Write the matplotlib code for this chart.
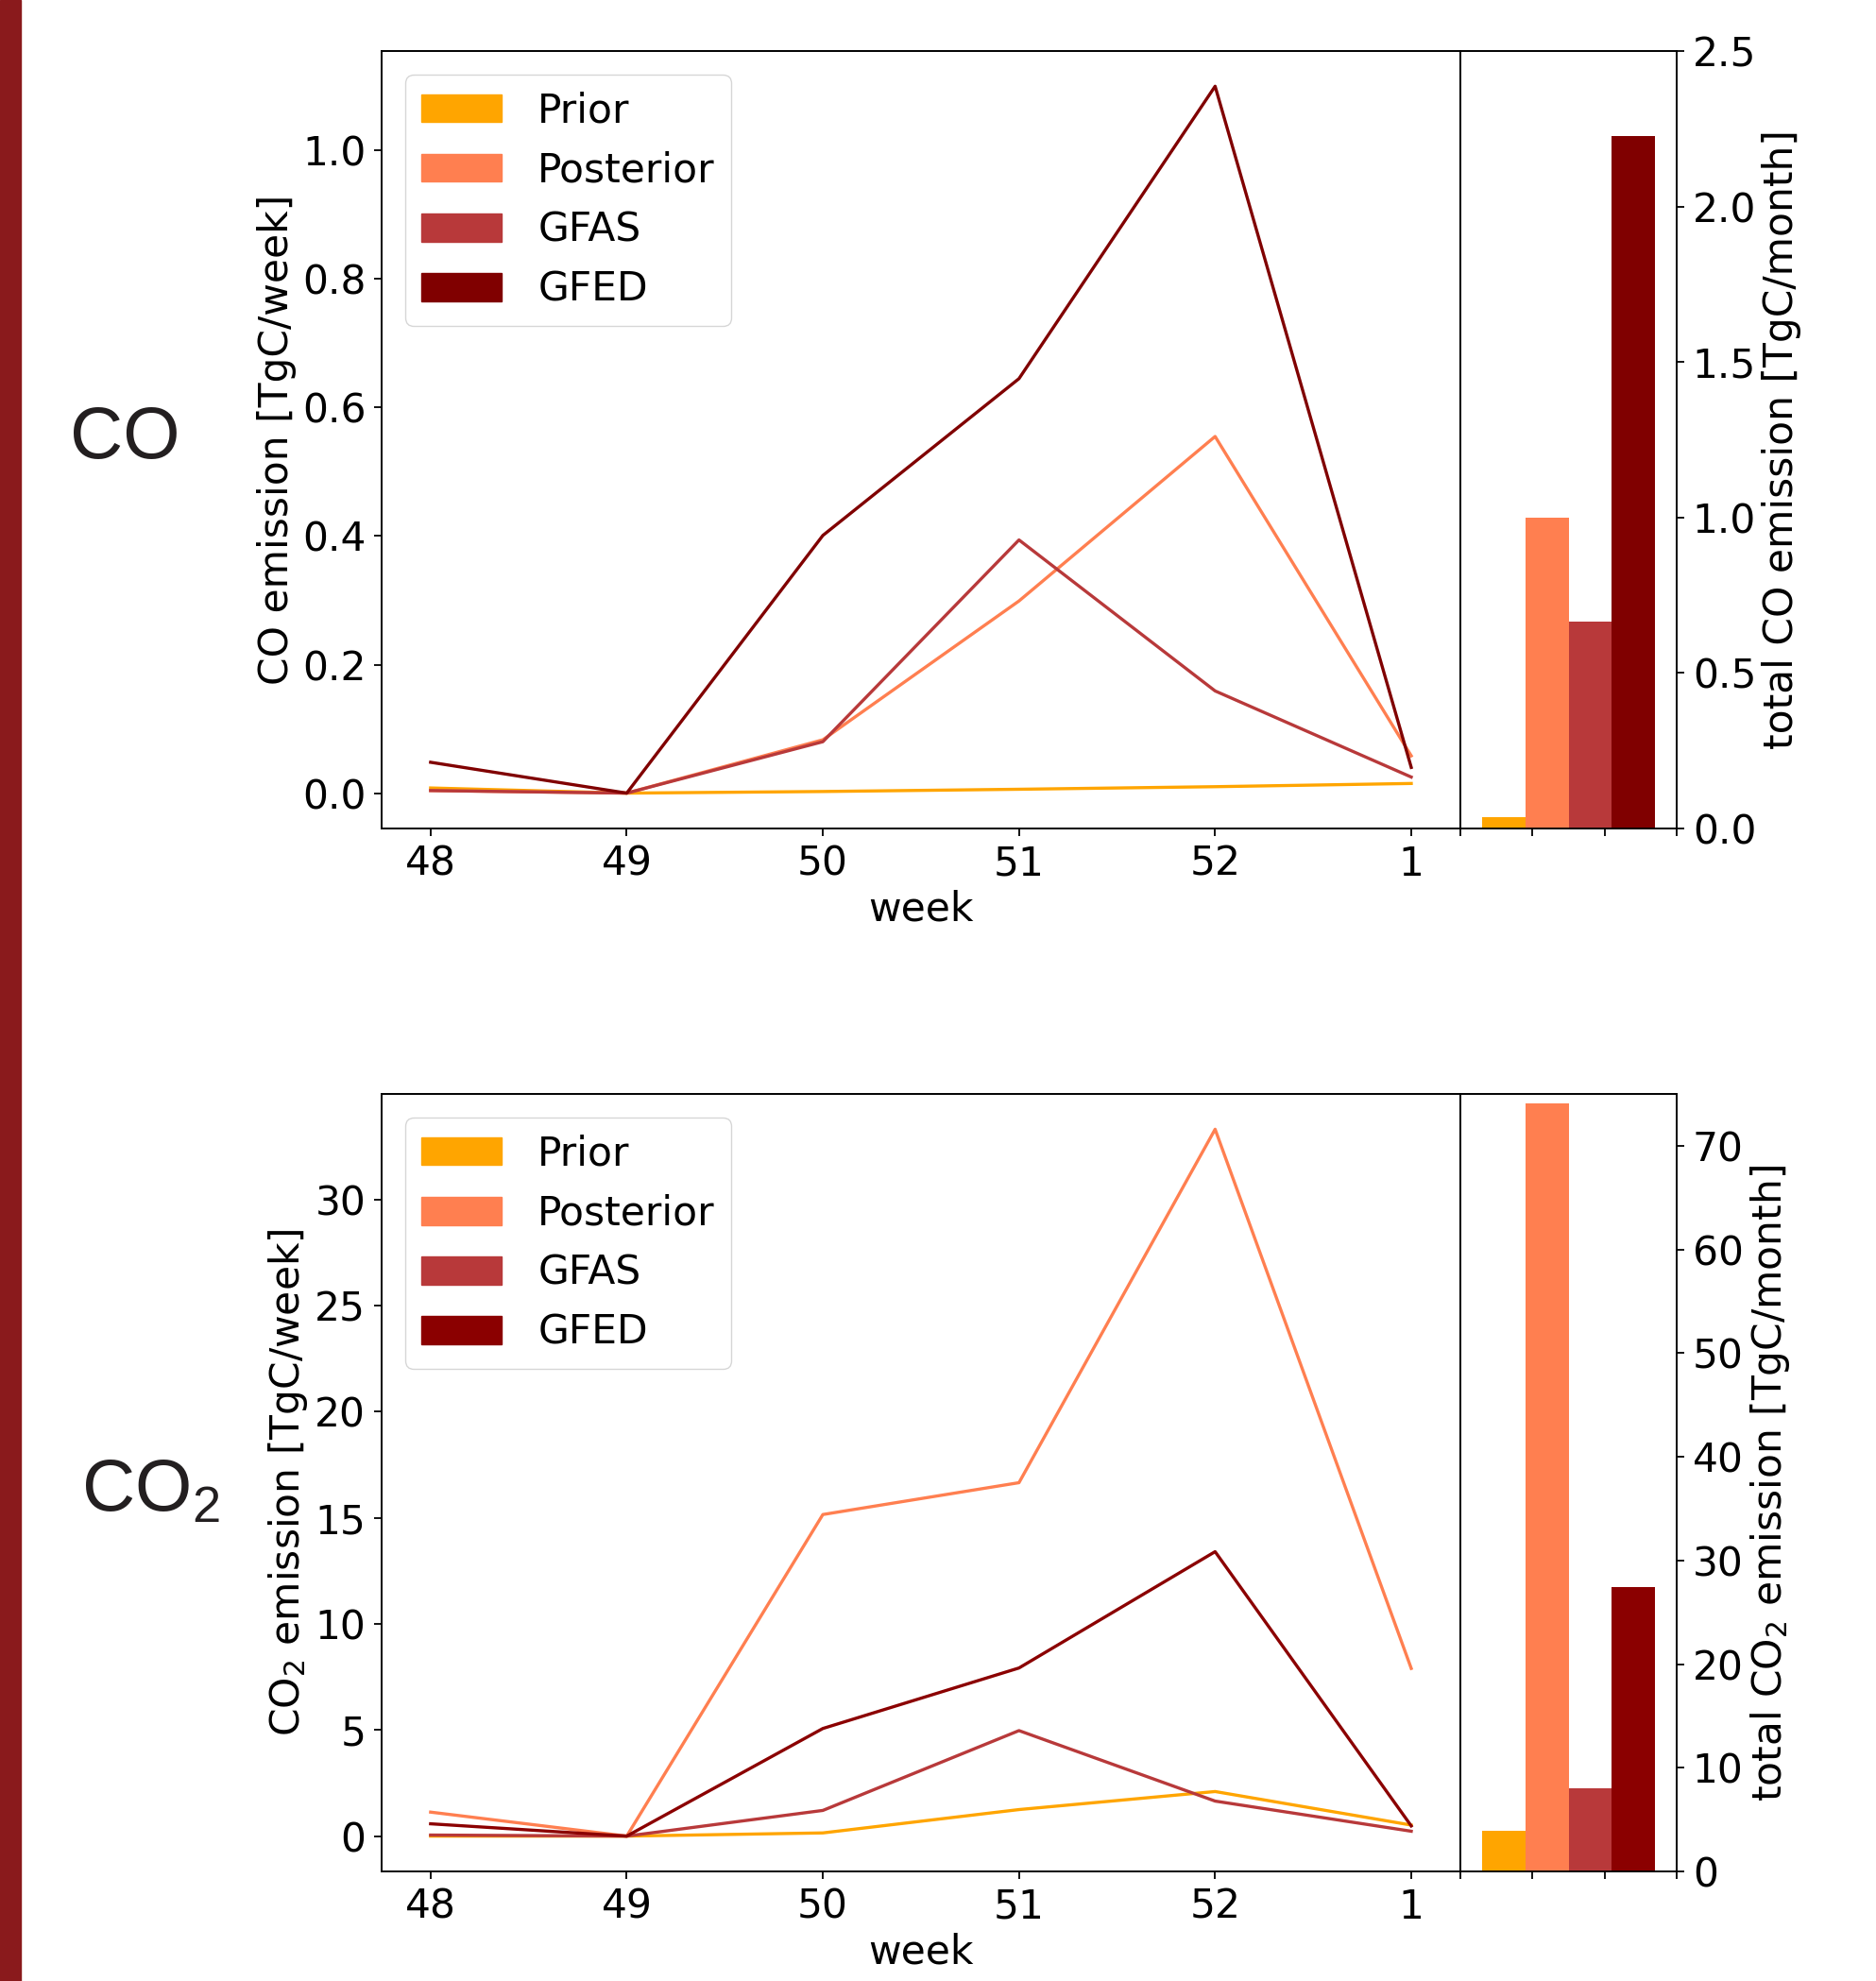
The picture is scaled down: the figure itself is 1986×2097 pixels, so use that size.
import matplotlib
matplotlib.use('Agg')
from matplotlib import pyplot as plt
from matplotlib.patches import Patch, Rectangle

weeks = ['48', '49', '50', '51', '52', '1']
names = ['Prior', 'Posterior', 'GFAS', 'GFED']

# CO weekly emission [TgC/week]
coPrior = [0.008, 0.0, 0.0025, 0.006, 0.010, 0.015]
coPosterior = [0.004, 0.0, 0.083, 0.299, 0.555, 0.058]
coGfas = [0.004, 0.0, 0.080, 0.394, 0.159, 0.025]
coGfed = [0.048, 0.0, 0.401, 0.645, 1.100, 0.040]
# CO monthly totals [TgC/month]
coTotals = [0.037, 1.00, 0.665, 2.227]

# CO2 weekly emission [TgC/week]
co2Prior = [0.0, 0.0, 0.15, 1.25, 2.10, 0.52]
co2Posterior = [1.13, 0.0, 15.15, 16.65, 33.3, 7.9]
co2Gfas = [0.05, 0.0, 1.21, 4.97, 1.65, 0.23]
co2Gfed = [0.58, 0.0, 5.07, 7.92, 13.4, 0.48]
# CO2 monthly totals [TgC/month]
co2Totals = [3.9, 74.1, 8.0, 27.4]

fs = 30.5
plt.rcParams['font.size'] = fs
plt.rcParams['axes.linewidth'] = 1.4
plt.rcParams['mathtext.rm'] = 'Liberation Sans'
for ax_ in ['xtick', 'ytick']:
    plt.rcParams[ax_ + '.major.size'] = 6
    plt.rcParams[ax_ + '.major.width'] = 1.3
    plt.rcParams[ax_ + '.major.pad'] = 6

fig = plt.figure(figsize=(19.86, 20.97), dpi=100)

# red strip on the left edge
fig.patches.append(Rectangle((0, 0), 22 / 1986, 1, transform=fig.transFigure,
                             color='#8A1A1C', zorder=0))


def panel(bottom, series, totals, colors, ylabel, ylabel2, yticks2, ylim2):
    ax = fig.add_axes([0.2034, bottom, 0.575, 0.3925])
    x = range(len(weeks))
    for vals, c in zip(series, colors):
        ax.plot(x, vals, color=c, lw=2.4)
    ax.set_xticks(list(x))
    ax.set_xticklabels(weeks)
    ax.set_xlabel('week', labelpad=4)
    ax.set_ylabel(ylabel)
    handles = [Patch(color=c, label=n) for c, n in zip(colors, names)]
    ax.legend(handles=handles, loc='upper left', fontsize=fs, handletextpad=0.9,
              borderaxespad=0.6)

    axb = fig.add_axes([0.7785, bottom, 0.1153, 0.3925])
    for i, (v, c) in enumerate(zip(totals, colors)):
        axb.bar(0.6 + 0.6 * i, v, width=0.6, color=c)
    axb.set_xlim(0, 3)
    axb.set_xticks([0, 1, 2, 3])
    axb.set_xticklabels([])
    axb.set_ylim(*ylim2)
    axb.set_yticks(yticks2)
    axb.yaxis.tick_right()
    axb.yaxis.set_label_position('right')
    axb.set_ylabel(ylabel2)
    return ax, axb


coColors = ['#FFA500', '#FF7F50', '#B8393A', '#800000']
co2Colors = ['#FFA500', '#FF7F50', '#B8393A', '#8B0000']

ax1, axb1 = panel(0.5818, [coPrior, coPosterior, coGfas, coGfed], coTotals, coColors,
                  'CO emission [TgC/week]', 'total CO emission [TgC/month]',
                  [0, 0.5, 1.0, 1.5, 2.0, 2.5], (0, 2.5))
ax1.set_yticks([0, 0.2, 0.4, 0.6, 0.8, 1.0])

ax2, axb2 = panel(0.0553, [co2Prior, co2Posterior, co2Gfas, co2Gfed], co2Totals, co2Colors,
                  'CO$_2$ emission [TgC/week]', 'total CO$_2$ emission [TgC/month]',
                  [0, 10, 20, 30, 40, 50, 60, 70], (0, 75))
ax2.set_yticks([0, 5, 10, 15, 20, 25, 30])

# species labels on the left
big = dict(family='Liberation Sans', color='#231F20', va='center')
fig.text(0.0665, 0.7787, 'CO', fontsize=56, ha='center', **big)
fig.text(0.0435, 0.2470, r'$\mathrm{CO_2}$', fontsize=56, ha='left',
         math_fontfamily='custom', **big)

fig.savefig('out.png', dpi=100)
